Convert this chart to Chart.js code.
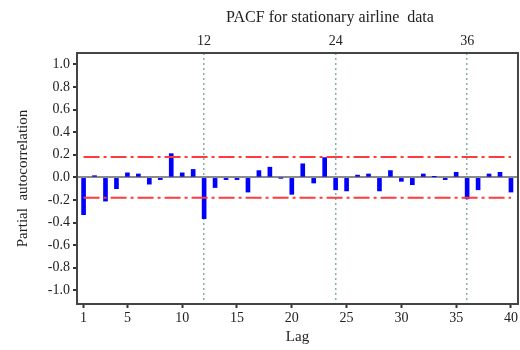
<!DOCTYPE html>
<html>
<head>
<meta charset="utf-8">
<script src="https://cdn.jsdelivr.net/npm/chart.js@4/dist/chart.umd.min.js"></script>
<style>
  body { margin: 0; background: #fff; }
  canvas { display: block; }
</style>
</head>
<body>
<canvas id="pacf" width="520" height="350"></canvas>
<script>
// lags and partial autocorrelation values
var lags = [1,2,3,4,5,6,7,8,9,10,11,12,13,14,15,16,17,18,19,20,
            21,22,23,24,25,26,27,28,29,30,31,32,33,34,35,36,37,38,39,40];
var pacf = [-0.33, 0.015, -0.21, -0.10, 0.04, 0.03, -0.06, -0.02, 0.21, 0.04,
            0.07, -0.365, -0.09, -0.02, -0.02, -0.13, 0.06, 0.09, -0.005, -0.15,
            0.12, -0.05, 0.175, -0.11, -0.12, 0.02, 0.03, -0.12, 0.06, -0.035,
            -0.065, 0.03, 0.005, -0.02, 0.045, -0.19, -0.11, 0.03, 0.045, -0.13];
var limit = 0.18;          // confidence band
var seasonalLags = [12, 24, 36];
var lagTicks = [1, 5, 10, 15, 20, 25, 30, 35, 40];
var yTicks = [-1.0, -0.8, -0.6, -0.4, -0.2, 0.0, 0.2, 0.4, 0.6, 0.8, 1.0];

var serif = '"Liberation Serif", "DejaVu Serif", serif';

var barData = lags.map(function(l, i) { return { x: l, y: pacf[i] }; });
var upper = [{ x: lags[0], y: limit }, { x: lags[lags.length - 1], y: limit }];
var lower = [{ x: lags[0], y: -limit }, { x: lags[lags.length - 1], y: -limit }];

// frame around plot + title text
var framePlugin = {
  id: 'frame',
  afterDraw: function(chart) {
    var a = chart.chartArea, ctx = chart.ctx;
    ctx.save();
    ctx.strokeStyle = '#444';
    ctx.lineWidth = 2;
    ctx.strokeRect(a.left, a.top, a.right - a.left, a.bottom - a.top);
    ctx.fillStyle = '#222';
    ctx.font = '16px ' + serif;
    ctx.textAlign = 'center';
    ctx.textBaseline = 'middle';
    ctx.fillText('PACF for stationary airline  data', 330, 18);
    ctx.restore();
  }
};

new Chart(document.getElementById('pacf'), {
  type: 'bar',
  data: {
    datasets: [
      {
        type: 'line', data: upper, borderColor: '#ff3b3b', borderWidth: 2,
        borderDash: [16, 4, 3, 4], pointRadius: 0, order: 0
      },
      {
        type: 'line', data: lower, borderColor: '#ff3b3b', borderWidth: 2,
        borderDash: [16, 4, 3, 4], pointRadius: 0, order: 0
      },
      {
        data: barData, backgroundColor: '#0000ff', barThickness: 4, order: 1
      }
    ]
  },
  options: {
    responsive: false,
    animation: false,
    layout: { padding: { left: 10, right: 2, top: 0, bottom: 0 } },
    plugins: { legend: { display: false }, tooltip: { enabled: false }, title: { display: false } },
    scales: {
      x: {
        type: 'linear', position: 'bottom', min: 0.4, max: 40.64, offset: false,
        afterBuildTicks: function(s) { s.ticks = lagTicks.map(function(v) { return { value: v }; }); },
        afterFit: function(s) { s.height = 46; },
        grid: { offset: false, drawOnChartArea: false, tickLength: 4, tickColor: '#333', tickWidth: 2 },
        border: { display: false },
        ticks: { color: '#222', font: { family: serif, size: 14 }, padding: 2, maxRotation: 0 },
        title: { display: true, text: 'Lag', color: '#222', font: { family: serif, size: 15 }, padding: { top: 0 } }
      },
      x2: {
        type: 'linear', position: 'top', min: 0.4, max: 40.64, offset: false,
        afterBuildTicks: function(s) { s.ticks = seasonalLags.map(function(v) { return { value: v }; }); },
        afterFit: function(s) { s.height = 53; },
        grid: { offset: false, color: '#7db3a6', lineWidth: 1.5, drawTicks: false },
        border: { display: false, dash: [2, 3] },
        ticks: { color: '#222', font: { family: serif, size: 14 }, padding: 3, maxRotation: 0 }
      },
      y: {
        min: -1.12, max: 1.1,
        afterBuildTicks: function(s) { s.ticks = yTicks.map(function(v) { return { value: v }; }); },
        afterFit: function(s) { s.width = 67; },
        grid: {
          color: function(c) { return c.tick && c.tick.value === 0 ? '#8a8a8a' : 'rgba(0,0,0,0)'; },
          lineWidth: 2, tickLength: 4, tickColor: '#333', tickWidth: 2
        },
        border: { display: false },
        ticks: {
          color: '#222', font: { family: serif, size: 14 }, padding: 3,
          callback: function(v) { return v.toFixed(1); }
        },
        title: { display: true, text: 'Partial  autocorrelation', color: '#222', font: { family: serif, size: 15 }, padding: { bottom: 4 } }
      }
    }
  },
  plugins: [framePlugin]
});
</script>
</body>
</html>
